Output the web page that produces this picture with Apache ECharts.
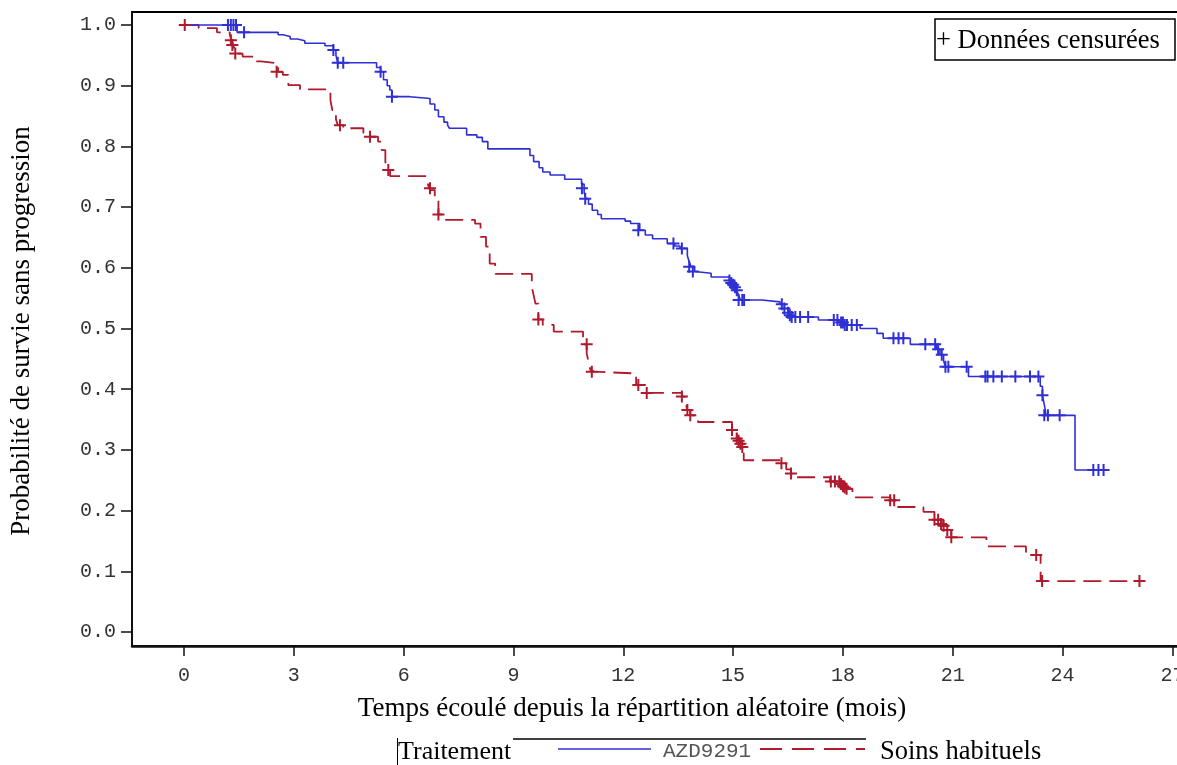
<!DOCTYPE html>
<html>
<head>
<meta charset="utf-8">
<script src="https://cdn.jsdelivr.net/npm/echarts@6.0.0/dist/echarts.min.js"></script>
<style>
  html, body { margin: 0; padding: 0; background: #fff; }
  #main { width: 1177px; height: 765px; }
</style>
</head>
<body>
<div id="main"></div>
<script>
// ticks
const xTicks = [0, 3, 6, 9, 12, 15, 18, 21, 24, 27]
const yTicks = [0, 0.1, 0.2, 0.3, 0.4, 0.5, 0.6, 0.7, 0.8, 0.9, 1.0]

// AZD9291 : [mois, survie] apres chaque evenement
const azdSteps = [
  [0, 1.0], [1.45, 0.988], [2.57, 0.984], [2.7, 0.981], [2.9, 0.977], [3.1, 0.974], [3.3, 0.970],
  [3.85, 0.966], [4.08, 0.959], [4.15, 0.950], [4.2, 0.938],
  [5.26, 0.930], [5.37, 0.923], [5.45, 0.910], [5.55, 0.900], [5.62, 0.893], [5.68, 0.882],
  [6.17, 0.879], [6.72, 0.870], [6.85, 0.860], [6.95, 0.849], [7.1, 0.840], [7.2, 0.835], [7.25, 0.830],
  [7.72, 0.819], [8.0, 0.815], [8.15, 0.808], [8.3, 0.796],
  [9.45, 0.785], [9.55, 0.775], [9.7, 0.765], [9.8, 0.758], [10.0, 0.753], [10.4, 0.746],
  [10.86, 0.738], [10.93, 0.724], [10.98, 0.714], [11.05, 0.705], [11.15, 0.695], [11.3, 0.688], [11.4, 0.681],
  [12.05, 0.677], [12.2, 0.673], [12.45, 0.662], [12.6, 0.654], [12.8, 0.648], [13.2, 0.640], [13.4, 0.636],
  [13.55, 0.632], [13.75, 0.620], [13.8, 0.610], [13.85, 0.602], [13.95, 0.594], [14.0, 0.591], [14.4, 0.585],
  [14.9, 0.579], [15.0, 0.572], [15.1, 0.563], [15.15, 0.555], [15.2, 0.547],
  [15.78, 0.544], [16.28, 0.540], [16.4, 0.533], [16.5, 0.526], [16.6, 0.519],
  [17.33, 0.514], [17.9, 0.510], [18.1, 0.506], [18.47, 0.500], [18.93, 0.492], [19.1, 0.484],
  [19.84, 0.474], [20.55, 0.466], [20.65, 0.457], [20.75, 0.447], [20.8, 0.437], [21.43, 0.421],
  [23.39, 0.405], [23.45, 0.390], [23.5, 0.375], [23.55, 0.357], [24.34, 0.267], [25.12, 0.267]
]
const azdCensored = [
  [1.2, 1.0], [1.28, 1.0], [1.35, 1.0], [1.42, 1.0], [1.64, 0.988],
  [4.08, 0.959], [4.2, 0.938], [4.35, 0.938], [5.37, 0.923], [5.68, 0.882],
  [10.87, 0.731], [10.96, 0.714], [12.41, 0.662], [13.37, 0.640], [13.6, 0.632], [13.8, 0.602], [13.9, 0.594],
  [14.9, 0.579], [14.95, 0.575], [15.0, 0.572], [15.05, 0.568], [15.1, 0.563], [15.15, 0.547], [15.25, 0.547], [15.3, 0.547],
  [16.33, 0.540], [16.4, 0.533], [16.5, 0.526], [16.55, 0.522], [16.6, 0.519], [16.7, 0.519], [16.83, 0.519], [17.05, 0.519],
  [17.75, 0.514], [17.85, 0.514], [17.95, 0.510], [18.0, 0.510], [18.05, 0.506], [18.11, 0.506], [18.24, 0.506], [18.38, 0.506],
  [19.38, 0.484], [19.52, 0.484], [19.65, 0.484],
  [20.25, 0.474], [20.52, 0.474], [20.6, 0.466], [20.7, 0.457], [20.8, 0.437], [20.88, 0.437], [21.38, 0.437],
  [21.89, 0.421], [21.95, 0.421], [22.11, 0.421], [22.34, 0.421], [22.71, 0.421], [23.11, 0.421], [23.34, 0.421],
  [23.45, 0.390], [23.5, 0.357], [23.6, 0.357], [23.92, 0.357],
  [24.84, 0.267], [24.98, 0.267], [25.12, 0.267]
]

// Soins habituels
const soinsSteps = [
  [0, 1.0], [0.4, 0.995], [0.9, 0.988], [1.25, 0.984], [1.3, 0.975], [1.35, 0.967], [1.4, 0.953],
  [1.6, 0.948], [1.9, 0.940], [2.1, 0.937], [2.57, 0.923], [2.7, 0.918], [2.85, 0.901], [3.17, 0.894],
  [3.9, 0.888], [4.0, 0.876], [4.05, 0.860], [4.15, 0.845], [4.2, 0.835], [4.35, 0.830],
  [4.9, 0.822], [5.08, 0.816], [5.3, 0.808], [5.4, 0.794], [5.5, 0.775], [5.55, 0.761], [5.63, 0.751],
  [6.63, 0.745], [6.68, 0.734], [6.72, 0.728], [6.85, 0.712], [6.95, 0.688], [7.04, 0.679],
  [7.95, 0.673], [8.1, 0.651], [8.25, 0.635], [8.35, 0.607], [8.5, 0.590],
  [9.5, 0.569], [9.55, 0.555], [9.6, 0.541], [9.68, 0.515], [9.8, 0.506], [10.1, 0.495],
  [10.9, 0.474], [11.0, 0.459], [11.05, 0.445], [11.1, 0.432], [11.15, 0.429], [11.2, 0.426],
  [12.35, 0.407], [12.64, 0.394],
  [13.6, 0.388], [13.7, 0.377], [13.75, 0.366], [13.83, 0.357], [14.04, 0.346],
  [14.97, 0.333], [15.1, 0.319], [15.2, 0.310], [15.29, 0.283],
  [16.3, 0.278], [16.45, 0.268], [16.58, 0.261], [16.64, 0.255],
  [17.65, 0.248], [18.0, 0.240], [18.1, 0.236], [18.26, 0.222],
  [19.3, 0.217], [19.5, 0.206], [20.2, 0.198], [20.5, 0.185], [20.7, 0.175], [20.85, 0.168], [20.96, 0.156],
  [21.92, 0.141], [23.0, 0.127], [23.4, 0.084], [26.1, 0.084]
]
const soinsCensored = [
  [0.02, 1.0], [1.28, 0.975], [1.32, 0.967], [1.4, 0.953], [2.53, 0.923], [4.26, 0.835], [5.08, 0.816],
  [5.58, 0.761], [6.72, 0.731], [6.95, 0.688], [9.68, 0.515], [11.0, 0.474], [11.14, 0.429],
  [12.41, 0.407], [12.64, 0.394], [13.6, 0.388], [13.75, 0.366], [13.83, 0.357],
  [14.97, 0.333], [15.1, 0.319], [15.15, 0.315], [15.2, 0.310], [15.25, 0.305],
  [16.32, 0.278], [16.58, 0.261], [17.67, 0.248], [17.78, 0.248], [17.9, 0.248], [17.95, 0.244],
  [18.0, 0.240], [18.05, 0.238], [18.1, 0.236], [19.29, 0.217], [19.4, 0.217],
  [20.5, 0.185], [20.6, 0.185], [20.68, 0.178], [20.75, 0.175], [20.85, 0.168], [20.96, 0.156],
  [23.28, 0.127], [23.44, 0.084], [26.1, 0.084]
]

const blue = '#2f2fd6'
const red = '#b01a2c'
const serif = '"Liberation Serif", "Times New Roman", serif'
const mono = '"Liberation Mono", "Courier New", monospace'
const plus = 'path://M5,0H7V12H5Z M0,5H12V7H0Z'

var chart = echarts.init(document.getElementById('main'))

chart.setOption({
  animation: false,
  backgroundColor: '#fff',
  grid: {
    left: 132, top: 12, width: 1077, height: 634,
    outerBoundsMode: 'none',
    containLabel: false,
    show: true, borderColor: '#000', borderWidth: 2,
  },
  xAxis: {
    type: 'value',
    min: -1.421,
    max: 28,
    splitLine: { show: false },
    axisLine: { show: true, onZero: false, lineStyle: { color: '#111', width: 2.5 } },
    axisTick: { show: true, customValues: xTicks, length: 10, lineStyle: { color: '#111', width: 1.5 } },
    axisLabel: {
      customValues: xTicks, margin: 20, color: '#333',
      fontFamily: mono, fontSize: 20,
    },
  },
  yAxis: {
    type: 'value',
    min: -0.023,
    max: 1.0215,
    splitLine: { show: false },
    axisLine: { show: true, onZero: false, lineStyle: { color: '#111', width: 2 } },
    axisTick: { show: true, customValues: yTicks, length: 11, lineStyle: { color: '#111', width: 1.5 } },
    axisLabel: {
      customValues: yTicks, margin: 16, color: '#333',
      fontFamily: mono, fontSize: 20,
      formatter: (v) => v.toFixed(1),
    },
  },
  series: [
    {
      name: 'AZD9291', type: 'line', step: 'end', data: azdSteps,
      showSymbol: false, lineStyle: { color: blue, width: 1.6 }, z: 3,
    },
    {
      name: 'Soins habituels', type: 'line', step: 'end', data: soinsSteps,
      showSymbol: false, lineStyle: { color: red, width: 1.8, type: [18, 8] }, z: 2,
    },
    {
      type: 'scatter', data: azdCensored, symbol: plus, symbolSize: 12,
      itemStyle: { color: blue, opacity: 1 }, z: 4,
    },
    {
      type: 'scatter', data: soinsCensored, symbol: plus, symbolSize: 12,
      itemStyle: { color: red, opacity: 1 }, z: 4,
    },
  ],
  graphic: [
    {
      type: 'text', x: 22, y: 331, rotation: Math.PI / 2,
      style: { text: 'Probabilité de survie sans progression', font: '27px ' + serif, fill: '#000', align: 'center', verticalAlign: 'middle' },
    },
    {
      type: 'text', x: 632, y: 709,
      style: { text: 'Temps écoulé depuis la répartition aléatoire (mois)', font: '27px ' + serif, fill: '#000', align: 'center', verticalAlign: 'middle' },
    },
    // boite donnees censurees
    {
      type: 'rect', shape: { x: 935, y: 19, width: 240, height: 41 },
      style: { fill: '#fff', stroke: '#000', lineWidth: 1.5 }, z: 10,
    },
    {
      type: 'text', x: 936, y: 41, z: 11,
      style: { text: '+ Données censurées', font: '26.5px ' + serif, fill: '#000', align: 'left', verticalAlign: 'middle' },
    },
    // legende
    { type: 'line', shape: { x1: 397.5, y1: 738, x2: 397.5, y2: 765 }, style: { stroke: '#000', lineWidth: 1 } },
    { type: 'line', shape: { x1: 513, y1: 739, x2: 866, y2: 739 }, style: { stroke: '#000', lineWidth: 1.5 } },
    {
      type: 'text', x: 398, y: 752,
      style: { text: 'Traitement', font: '26px ' + serif, fill: '#000', align: 'left', verticalAlign: 'middle' },
    },
    { type: 'line', shape: { x1: 558, y1: 749, x2: 651, y2: 749 }, style: { stroke: blue, lineWidth: 1.6 } },
    {
      type: 'text', x: 663, y: 751,
      style: { text: 'AZD9291', font: '21px ' + mono, fill: '#555', align: 'left', verticalAlign: 'middle' },
    },
    { type: 'line', shape: { x1: 760, y1: 749, x2: 865, y2: 749 }, style: { stroke: red, lineWidth: 1.8, lineDash: [22, 10] } },
    {
      type: 'text', x: 880, y: 752,
      style: { text: 'Soins habituels', font: '26.5px ' + serif, fill: '#000', align: 'left', verticalAlign: 'middle' },
    },
  ],
})
</script>
</body>
</html>
